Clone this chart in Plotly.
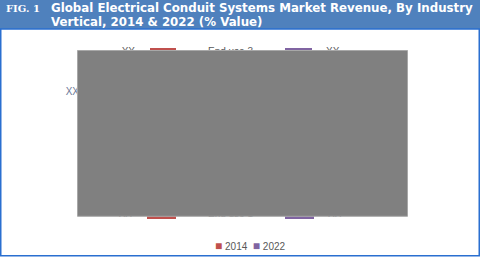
import plotly.graph_objects as go

W, H = 480, 257

categories = ["End use 1", "End use 2", "End use 3"]
series_names = ["2014", "2022"]
values_2014 = [29, 30, 26]
values_2022 = [29, 31, 27]
value_labels = ["XX", "XX", "XX"]
side_label = "XX"
colors = ["#c0504d", "#8064a2"]

title_tag = "FIG. 1"
title_line1 = "Global Electrical Conduit Systems Market Revenue, By Industry"
title_line2 = "Vertical, 2014 & 2022 (% Value)"


def px_x(x):
    return x / W


def px_y(y):
    return 1 - y / H


txt_font = dict(family="Liberation Sans, Arial", size=10, color="#595959")
LABEL_GAP = 15  # px == axis units (1 unit per px)

fig = go.Figure()

fig.add_trace(go.Bar(
    y=categories, x=values_2014, orientation="h", name=series_names[0],
    marker=dict(color=colors[0], line=dict(width=0)), width=0.1,
    xaxis="x", yaxis="y", showlegend=False, hoverinfo="skip",
))
fig.add_trace(go.Bar(
    y=categories, x=values_2022, orientation="h", name=series_names[1],
    marker=dict(color=colors[1], line=dict(width=0)), width=0.1,
    xaxis="x2", yaxis="y", showlegend=False, hoverinfo="skip",
))
fig.add_trace(go.Scatter(
    y=categories, x=[v + LABEL_GAP for v in values_2014], mode="text", text=value_labels,
    textposition="middle left", textfont=txt_font, cliponaxis=False,
    xaxis="x", yaxis="y", showlegend=False, hoverinfo="skip",
))
fig.add_trace(go.Scatter(
    y=categories, x=[v + LABEL_GAP - 1 for v in values_2022], mode="text", text=value_labels,
    textposition="middle right", textfont=txt_font, cliponaxis=False,
    xaxis="x2", yaxis="y", showlegend=False, hoverinfo="skip",
))
fig.add_trace(go.Scatter(
    y=categories, x=[0.5] * len(categories), mode="text", text=categories,
    textposition="middle center", textfont=txt_font, cliponaxis=False,
    xaxis="x3", yaxis="y", showlegend=False, hoverinfo="skip",
))
fig.add_trace(go.Scatter(
    y=[92], x=[79], mode="text", text=[side_label],
    textposition="middle left", cliponaxis=False,
    textfont=dict(family="Liberation Sans, Arial", size=10, color="#6c7a99"),
    xaxis="x4", yaxis="y2", showlegend=False, hoverinfo="skip",
))

annotations = []
hdr_font = dict(family="DejaVu Sans", size=11.8, color="white")
annotations.append(dict(x=px_x(4), y=px_y(8), xref="paper", yref="paper", text="<b>" + title_tag + "</b>",
                        showarrow=False, xanchor="left", yanchor="middle",
                        font=dict(family="DejaVu Serif, DejaVu Sans", size=10, color="white")))
annotations.append(dict(x=px_x(49), y=px_y(8), xref="paper", yref="paper", text="<b>" + title_line1 + "</b>",
                        showarrow=False, xanchor="left", yanchor="middle", font=hdr_font))
annotations.append(dict(x=px_x(49), y=px_y(22), xref="paper", yref="paper", text="<b>" + title_line2 + "</b>",
                        showarrow=False, xanchor="left", yanchor="middle", font=hdr_font))

legend_text = "  ".join(
    f'<span style="color:{col};font-size:12px">■</span> {name}' for name, col in zip(series_names, colors)
)
annotations.append(dict(x=px_x(250), y=px_y(246), xref="paper", yref="paper", text=legend_text,
                        showarrow=False, xanchor="center", yanchor="middle",
                        font=dict(family="Liberation Sans, Arial", size=10, color="#595959")))

shapes = [
    dict(type="rect", xref="paper", yref="paper", x0=0, x1=1, y0=px_y(29), y1=1,
         fillcolor="#4f81bd", line=dict(width=0), layer="above"),
    dict(type="rect", xref="paper", yref="paper", x0=px_x(0.75), x1=px_x(479.25), y0=px_y(255.8), y1=px_y(29),
         fillcolor="rgba(0,0,0,0)", line=dict(color="#2a6fd0", width=1.5), layer="above"),
    dict(type="rect", xref="paper", yref="paper", x0=px_x(77.5), x1=px_x(407.5), y0=px_y(216.3), y1=px_y(50.5),
         fillcolor="#808080", line=dict(color="#a8a8a8", width=1), layer="above"),
]

fig.update_layout(
    width=W, height=H,
    margin=dict(l=0, r=0, t=0, b=0),
    paper_bgcolor="white", plot_bgcolor="rgba(0,0,0,0)",
    barmode="overlay",
    xaxis=dict(domain=[px_x(100), px_x(176)], range=[76, 0], visible=False, fixedrange=True),
    xaxis2=dict(domain=[px_x(285), px_x(361)], range=[0, 76], visible=False, anchor="y", fixedrange=True),
    xaxis3=dict(domain=[px_x(176), px_x(285)], range=[0, 1], visible=False, anchor="y", fixedrange=True),
    xaxis4=dict(domain=[0, 1], range=[0, W], visible=False, anchor="y2", fixedrange=True),
    yaxis=dict(domain=[px_y(219), px_y(48)], range=[-0.05, 2.05], visible=False, fixedrange=True),
    yaxis2=dict(domain=[0, 1], range=[H, 0], visible=False, anchor="x4", fixedrange=True),
    annotations=annotations,
    shapes=shapes,
    showlegend=False,
)

fig.write_html("out.html")
